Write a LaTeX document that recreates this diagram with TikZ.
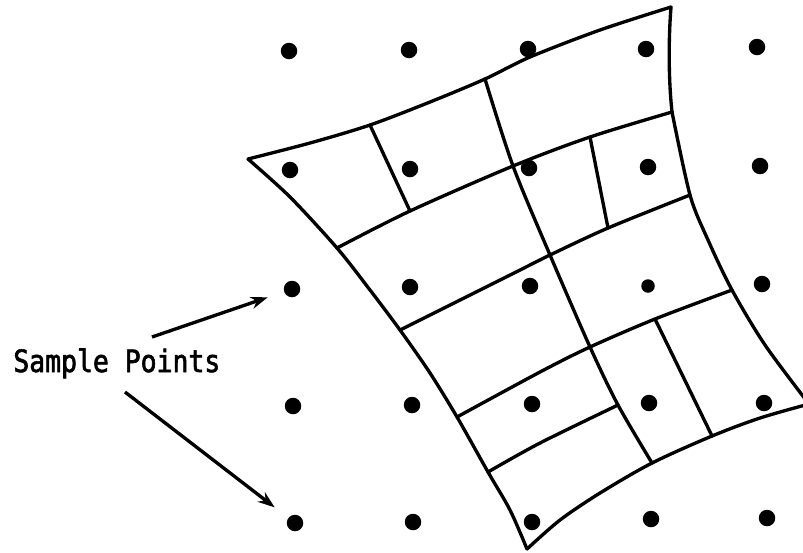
\documentclass[tikz,border=0pt]{standalone}
\usepackage{fontspec}
\usepackage{tikz}
\usetikzlibrary{arrows.meta,calc,positioning}
\newfontfamily\labelmono[FakeStretch=0.86,FakeBold=2]{DejaVu Sans Mono}

\begin{document}
\begin{tikzpicture}[x=0.02cm,y=-0.02cm,
  pt/.style={circle,fill=black,inner sep=0pt,minimum size=0.33cm},
  mesh/.style={line width=1.9pt,line cap=round,line join=round},
  arr/.style={-{Stealth[length=3.4mm,width=2.4mm]},line width=1.9pt,shorten >=0.34cm}
]
\useasboundingbox (0,0) rectangle (803,552);

% sample points
\foreach \r/\c/\x/\y in {1/1/289/51,1/2/409/50,1/3/528/49,1/4/646/49,1/5/757/47,
  2/1/290/170,2/2/410/169,2/3/529/168,2/4/648/167,2/5/760/166,
  3/1/292/289,3/2/410/287,3/3/530/286,3/5/762/284,
  4/1/293/406,4/2/412/405,4/3/532/404,4/4/649/403,4/5/764/403,
  5/1/295/523,5/2/413/522,5/3/532/522,5/4/651/519,5/5/767/518}
  \node[pt] (d\r\c) at (\x,\y) {};
\node[pt,minimum size=0.27cm] (d34) at (648,286) {};

% corners and junctions of the warped grid
\coordinate (TL) at (248,159);
\coordinate (TR) at (671,7);
\coordinate (BR) at (809,404);
\coordinate (BL) at (527,549);
\coordinate (t1) at (370,125);
\coordinate (t2) at (485,79);
\coordinate (l1) at (337,248);
\coordinate (l2) at (400,330);
\coordinate (l3) at (457,417);
\coordinate (l4) at (488,472);
\coordinate (r1) at (672,112);
\coordinate (r2) at (690,195);
\coordinate (r3) at (732,290);
\coordinate (b1) at (652,463);
\coordinate (b2) at (712,436);
\coordinate (m1) at (410,211);
\coordinate (m2) at (513,166);
\coordinate (m3) at (590,137);
\coordinate (m4) at (550,255);
\coordinate (m5) at (608,228);
\coordinate (m6) at (590,347);
\coordinate (m7) at (655,319);
\coordinate (m8) at (618,405);

% outline
\draw[mesh] plot[smooth] coordinates {(TL) (310,143) (t1) (430,102) (t2) (530,57) (600,30) (TR)};
\draw[mesh] (TR) .. controls (668,45) and (669,85) .. (r1);
\draw[mesh] plot[smooth] coordinates {(r1) (r2) (708,240) (r3) (765,345) (BR)};
\draw[mesh] plot[smooth] coordinates {(BR) (760,418) (b2) (b1) (600,493) (560,520) (BL)};
\draw[mesh] plot[smooth] coordinates {(TL) (290,197) (l1) (370,290) (l2) (430,373) (l3) (l4) (510,510) (BL)};

% inner lines
\draw[mesh] plot[smooth] coordinates {(l1) (m1) (m2) (m3) (r1)};
\draw[mesh] plot[smooth] coordinates {(l2) (520,270) (m4) (m5) (r2)};
\draw[mesh] plot[smooth] coordinates {(l3) (540,372) (m6) (m7) (r3)};
\draw[mesh] plot[smooth] coordinates {(l4) (540,443) (m8)};
\draw[mesh] plot[smooth] coordinates {(t2) (m2) (m4) (m6) (m8) (b1)};
\draw[mesh] (t1) -- (m1);
\draw[mesh] (m3) -- (m5);
\draw[mesh] (m7) -- (b2);

% label
\node[anchor=base west,inner sep=0pt,font=\labelmono\fontsize{17.5}{20}\selectfont]
  (lbl) at (13,372) {Sample Points};
\coordinate (a1) at (152,337);
\coordinate (a2) at (125,392);
\draw[arr] (a1) -- (d31);
\draw[arr] (a2) -- (d51);
\end{tikzpicture}
\end{document}
